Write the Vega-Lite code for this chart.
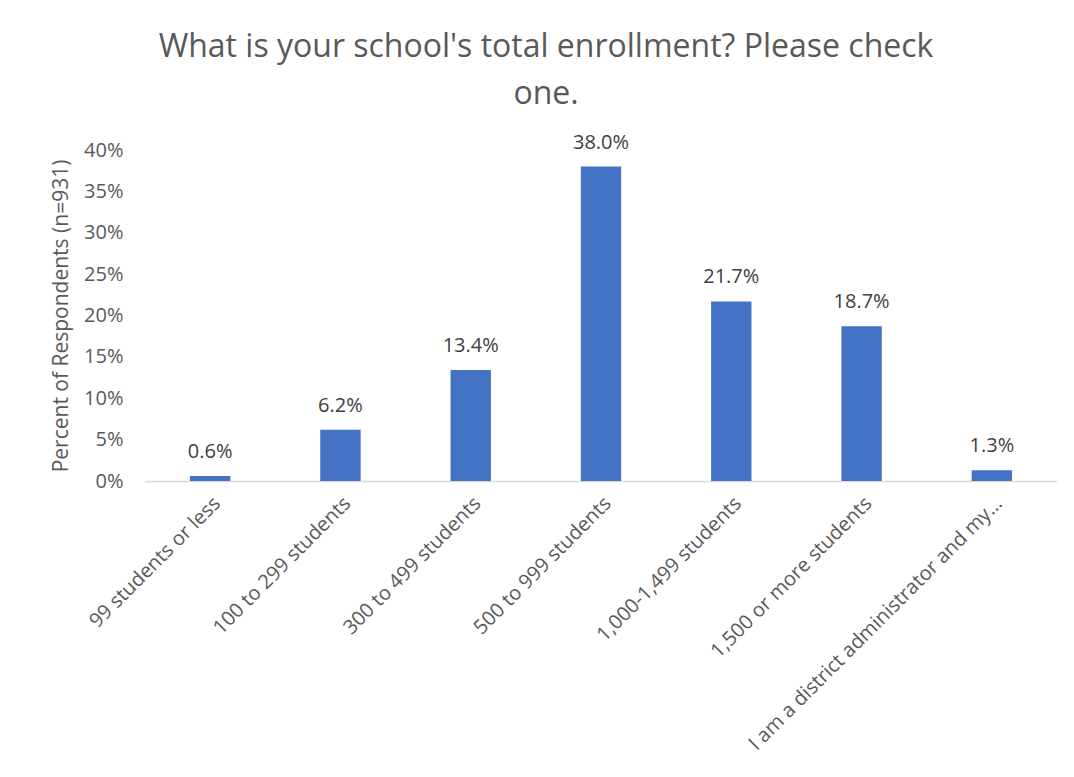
{
  "$schema": "https://vega.github.io/schema/vega-lite/v6.json",
  "width": 912,
  "height": 331,
  "autosize": {"type": "none"},
  "padding": {"left": 145, "top": 150, "right": 17, "bottom": 296},
  "background": "white",
  "title": {
    "text": ["What is your school's total enrollment? Please check", "one."],
    "anchor": "middle",
    "frame": "group",
    "dx": -55,
    "offset": 22,
    "fontSize": 32,
    "lineHeight": 47,
    "font": "Open Sans",
    "fontWeight": "normal",
    "color": "#595959"
  },
  "data": {
    "values": [
      {"category": "99 students or less", "pct": 0.006},
      {"category": "100 to 299 students", "pct": 0.062},
      {"category": "300 to 499 students", "pct": 0.134},
      {"category": "500 to 999 students", "pct": 0.380},
      {"category": "1,000-1,499 students", "pct": 0.217},
      {"category": "1,500 or more students", "pct": 0.187},
      {"category": "I am a district administrator and my…", "pct": 0.013}
    ]
  },
  "encoding": {
    "x": {
      "field": "category",
      "type": "nominal",
      "sort": null,
      "scale": {"paddingInner": 0.69, "paddingOuter": 0.345},
      "axis": {
        "title": null,
        "labelAngle": -45,
        "labelFontSize": 20,
        "labelFont": "Open Sans",
        "labelColor": "#595959",
        "labelPadding": 12,
        "labelLimit": 450,
        "ticks": false,
        "domainColor": "#D9D9D9",
        "domainWidth": 1.5
      }
    },
    "y": {
      "field": "pct",
      "type": "quantitative",
      "scale": {"domain": [0, 0.4], "nice": false},
      "axis": {
        "title": "Percent of Respondents (n=931)",
        "titleFontSize": 21,
        "titleFont": "Open Sans",
        "titleFontWeight": "normal",
        "titleColor": "#595959",
        "titlePadding": 12,
        "format": ".0%",
        "values": [0, 0.05, 0.1, 0.15, 0.2, 0.25, 0.3, 0.35, 0.4],
        "labelFontSize": 20,
        "labelFont": "Open Sans",
        "labelColor": "#595959",
        "labelPadding": 22,
        "ticks": false,
        "domain": false,
        "grid": false
      }
    }
  },
  "layer": [
    {"mark": {"type": "bar", "color": "#4472C4"}},
    {
      "mark": {"type": "text", "dy": -24, "fontSize": 20, "font": "Open Sans", "color": "#404040"},
      "encoding": {"text": {"field": "pct", "type": "quantitative", "format": ".1%"}}
    }
  ],
  "config": {"view": {"stroke": null}}
}
